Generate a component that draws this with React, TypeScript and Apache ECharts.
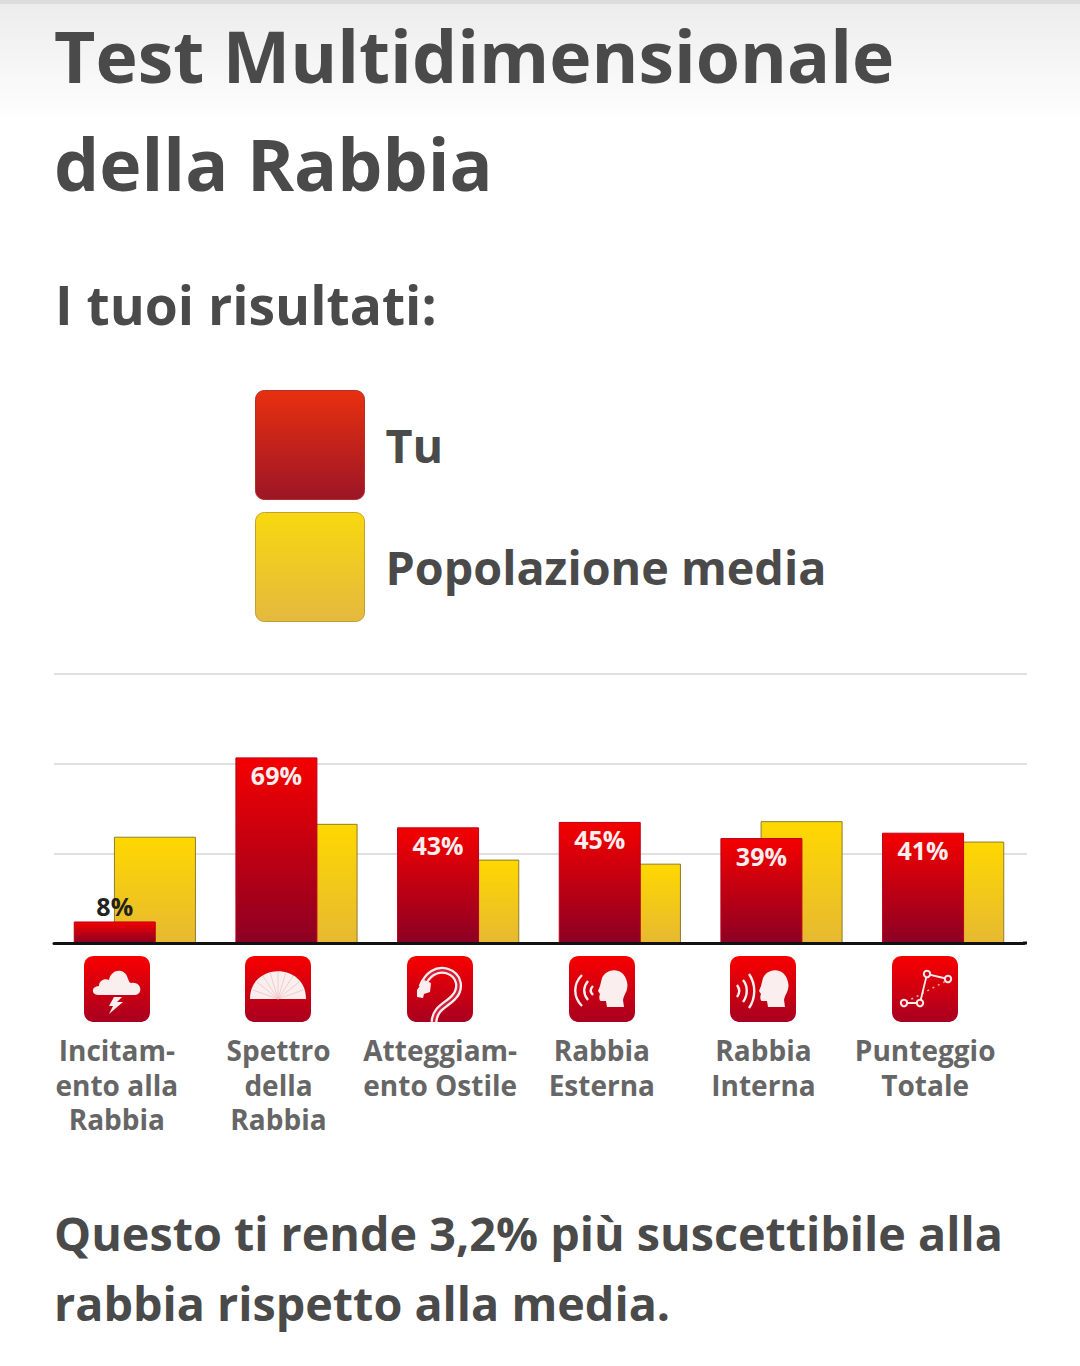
import React, { useEffect, useRef } from "react";
import * as echarts from "echarts";

const titleText = "Test Multidimensionale\ndella Rabbia";
const subtitleText = "I tuoi risultati:";
const footerText = "Questo ti rende 3,2% più suscettibile alla\nrabbia rispetto alla media.";
const seriesNames = ["Tu", "Popolazione media"];
const categories = [
  "Incitam-\nento alla\nRabbia",
  "Spettro\ndella\nRabbia",
  "Atteggiam-\nento Ostile",
  "Rabbia\nEsterna",
  "Rabbia\nInterna",
  "Punteggio\nTotale",
];
const youValues = [8, 69, 43, 45, 39, 41];
const averageValues = [39.5, 44.3, 31, 29.5, 45.3, 37.7];

const FONT = "'Open Sans', sans-serif";
const INK = "#4a4a4a";

const vGrad = (a: string, b: string) =>
  new echarts.graphic.LinearGradient(0, 0, 0, 1, [
    { offset: 0, color: a },
    { offset: 1, color: b },
  ]);

const shapes: Record<string, string> = {
  icoRound: "M10 0 L56 0 C62 0 66 4 66 10 L66 56 C66 62 62 66 56 66 L10 66 C4 66 0 62 0 56 L0 10 C0 4 4 0 10 0 Z",
  icoCloud: "M14 39 C7 39 7 30 15 30 C15 24 21 22 25 24 C27 13 41 11 44 23 C46 27 45 26 47 27 C57 25 60 38 51 39 Z",
  icoBolt: "M30 41 L38 41 L33 46 L39 46 L25 58 L29 50 L25 50 Z",
  icoFan: "M5 43 C5 6 61 6 61 43 Z",
  icoFanRibs:
    "M33 43 L33 15 M33 43 L25 16 M33 43 L41 16 M33 43 L18 20 M33 43 L48 20 M33 43 L12 26 M33 43 L54 26 M33 43 L8 34 M33 43 L58 34",
  icoSnakeBody: "M15 31 C20 18 30 12 40 15 C53 19 55 33 46 42 C38 50 28 52 27 66",
  icoSnakeHead: "M10 34 L17 24 L24 27 L23 36 L17 38 L16 42 L10 41 Z",
  icoHead:
    "M33 22 C38 11 55 11 58 26 C60 34 55 38 54 44 L55 51 L38 51 L37 45 L32 45 C30 45 30 40 31 38 L29 35 L31 30 Z",
  icoWavesOut: "M13 19 C4 28 4 41 13 50 M19 25 C14 31 14 38 19 44 M24 30 C21 33 21 36 24 39",
  icoWavesIn: "M7 29 C10 33 10 37 7 41 M13 24 C18 30 18 39 13 46 M19 18 C26 28 26 42 19 52",
  icoPlotLine: "M12 47 L28 47 L35 18 L56 23",
  icoPlotDots: "M14 46 L56 24",
};
Object.keys(shapes).forEach((k) =>
  echarts.graphic.registerShape(k, echarts.graphic.extendPath(shapes[k], {}) as any)
);

const swatchIcon = "path://M9 0 L101 0 C106 0 110 4 110 9 L110 101 C110 106 106 110 101 110 L9 110 C4 110 0 106 0 101 L0 9 C0 4 4 0 9 0 Z";

const fill = (type: string) => ({ type, style: { fill: "#fbeeee" } });
const line = (type: string, lineWidth: number, stroke = "#fbeeee", lineDash?: number[]) => ({
  type,
  style: { fill: "none", stroke, lineWidth, lineDash },
});
const dot = (cx: number, cy: number) => ({
  type: "circle",
  shape: { cx, cy, r: 3.2 },
  style: { fill: "#d80012", stroke: "#fbeeee", lineWidth: 2 },
});

const glyphs: any[][] = [
  [fill("icoCloud"), fill("icoBolt")],
  [fill("icoFan"), line("icoFanRibs", 0.8, "#ecc4c4")],
  [line("icoSnakeBody", 7), line("icoSnakeBody", 2.4, "#d8203a"), fill("icoSnakeHead")],
  [fill("icoHead"), line("icoWavesOut", 2.4)],
  [fill("icoHead"), line("icoWavesIn", 2.4)],
  [
    line("icoPlotDots", 1.6, "#f3a0a0", [2, 4]),
    line("icoPlotLine", 1.8),
    dot(12, 47),
    dot(28, 47),
    dot(35, 18),
    dot(56, 23),
  ],
];
const iconLeft = [84, 245, 407, 569, 730, 892];
const ruleEnds = [
  { y: 673, h: 2, color: "#e0e0e0" },
  { y: 763, h: 2, color: "#e0e0e0" },
  { y: 853, h: 2, color: "#e0e0e0" },
  { y: 941.5, h: 3, color: "#111" },
];

export default function App() {
  const ref = useRef<HTMLDivElement>(null);
  useEffect(() => {
    document.body.style.margin = "0";
    const chart = echarts.init(ref.current!, undefined, { renderer: "svg" });
    chart.setOption({
      animation: false,
      backgroundColor: "#fff",
      title: [
        {
          text: titleText,
          left: 54,
          top: 1,
          padding: 0,
          textStyle: { fontFamily: FONT, fontSize: 71.5, fontWeight: 700, color: INK, lineHeight: 108 },
        },
        {
          text: subtitleText,
          left: 55,
          top: 270,
          padding: 0,
          textStyle: { fontFamily: FONT, fontSize: 53.4, fontWeight: 700, color: INK, lineHeight: 68 },
        },
        {
          text: footerText,
          left: 54,
          top: 1198,
          padding: 0,
          textStyle: { fontFamily: FONT, fontSize: 46.7, fontWeight: 700, color: INK, lineHeight: 70 },
        },
      ],
      legend: {
        left: 255,
        top: 390,
        padding: 0,
        orient: "vertical",
        itemWidth: 109,
        itemHeight: 109,
        itemGap: 12,
        icon: swatchIcon,
        selectedMode: false,
        textStyle: { fontFamily: FONT, fontSize: 46.7, fontWeight: 700, color: INK, padding: [0, 0, 4, 16] },
        data: [
          {
            name: seriesNames[0],
            itemStyle: { color: vGrad("#e8300f", "#9c1526"), borderColor: "#b0302a", borderWidth: 1 },
          },
          {
            name: seriesNames[1],
            itemStyle: { color: vGrad("#f8d80f", "#e5b83f"), borderColor: "#c0a030", borderWidth: 1 },
          },
        ],
      },
      grid: { left: 54, width: 970, top: 674, height: 269, containLabel: false },
      xAxis: {
        type: "category",
        data: categories,
        z: 6,
        axisLine: { lineStyle: { color: "#111", width: 3 } },
        axisTick: { show: false },
        axisLabel: {
          interval: 0,
          margin: 90,
          padding: [0, 36, 0, 0],
          fontFamily: FONT,
          fontSize: 28,
          fontWeight: 700,
          color: "#666666",
          lineHeight: 34.5,
          verticalAlign: "top",
        },
      },
      yAxis: {
        type: "value",
        min: 0,
        max: 100,
        interval: 100 / 3,
        axisLine: { show: false },
        axisTick: { show: false },
        axisLabel: { show: false },
        splitLine: { lineStyle: { color: "#e0e0e0", width: 2 } },
      },
      series: [
        {
          name: seriesNames[0],
          type: "bar",
          z: 3,
          barWidth: 82,
          barGap: "-51%",
          itemStyle: { color: vGrad("#f40000", "#8c0024"), borderColor: "#b80018", borderWidth: 1 },
          label: {
            show: true,
            position: "insideTop",
            distance: 5,
            formatter: "{c}%",
            fontFamily: FONT,
            fontSize: 25,
            fontWeight: 700,
            color: "#fbeeee",
          },
          data: youValues.map((v, i) =>
            i === 0 ? { value: v, label: { position: "top", color: "#222", distance: 3 } } : v
          ),
        },
        {
          name: seriesNames[1],
          type: "bar",
          z: 2,
          barWidth: 82,
          itemStyle: { color: vGrad("#ffd800", "#e6b932"), borderColor: "#8f7c2a", borderWidth: 1 },
          data: averageValues,
        },
      ],
      graphic: [
        {
          type: "rect",
          silent: true,
          z: -10,
          shape: { x: 0, y: 0, width: 1080, height: 125 },
          style: { fill: vGrad("#ececec", "#ffffff") },
        },
        {
          type: "rect",
          silent: true,
          z: -9,
          shape: { x: 0, y: 0, width: 1080, height: 4 },
          style: { fill: "#dcdcdc" },
        },
        ...ruleEnds.map((r) => ({
          type: "rect",
          silent: true,
          shape: { x: 1023, y: r.y, width: 4, height: r.h },
          style: { fill: r.color },
        })),
        ...glyphs.map((children, i) => ({
          type: "group",
          x: iconLeft[i],
          y: 956,
          silent: true,
          children: [
            { type: "icoRound", style: { fill: vGrad("#f80000", "#a80020") } },
            ...children,
          ],
        })),
      ],
    });
    return () => chart.dispose();
  }, []);
  return <div ref={ref} style={{ width: 1080, height: 1366 }} />;
}
